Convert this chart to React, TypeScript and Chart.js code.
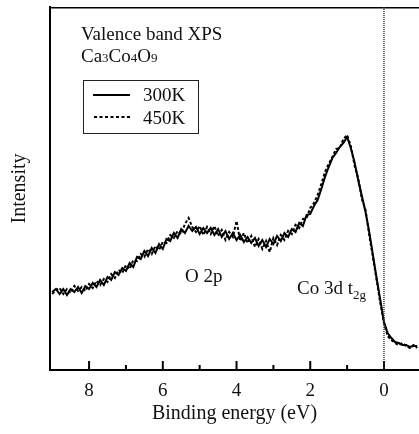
import React, { useEffect, useRef } from "react";
import { Chart, registerables } from "chart.js";

Chart.register(...registerables);

const ENERGY = [
  9.0, 8.9, 8.8, 8.7, 8.6, 8.5, 8.4, 8.3, 8.2, 8.1,
  8.0, 7.9, 7.8, 7.7, 7.6, 7.5, 7.4, 7.3, 7.2, 7.1,
  7.0, 6.9, 6.8, 6.7, 6.6, 6.5, 6.4, 6.3, 6.2, 6.1,
  6.0, 5.9, 5.8, 5.7, 5.6, 5.5, 5.4, 5.3, 5.2, 5.1,
  5.0, 4.9, 4.8, 4.7, 4.6, 4.5, 4.4, 4.3, 4.2, 4.1,
  4.0, 3.9, 3.8, 3.7, 3.6, 3.5, 3.4, 3.3, 3.2, 3.1,
  3.0, 2.9, 2.8, 2.7, 2.6, 2.5, 2.4, 2.3, 2.2, 2.1,
  2.0, 1.9, 1.8, 1.7, 1.6, 1.5, 1.4, 1.3, 1.2, 1.1,
  1.0, 0.9, 0.8, 0.7, 0.6, 0.5, 0.4, 0.3, 0.2, 0.1,
  0.0, -0.1, -0.2, -0.3, -0.4, -0.5, -0.6, -0.7, -0.8, -0.9,
];

const INTENSITY_300K = [
  78, 81, 76, 81, 75, 81, 78, 83, 77, 84,
  81, 87, 83, 90, 85, 93, 90, 98, 95, 102,
  99, 107, 103, 113, 111, 119, 114, 122, 117, 126,
  121, 131, 129, 137, 132, 141, 137, 144, 139, 143,
  136, 142, 137, 142, 135, 141, 133, 139, 131, 137,
  130, 135, 128, 133, 127, 132, 124, 130, 123, 131,
  126, 134, 129, 137, 133, 141, 138, 147, 144, 155,
  156, 164, 170, 181, 193, 203, 212, 217, 223, 227,
  233, 222, 208, 190, 174, 158, 138, 115, 92, 70,
  48, 37, 32, 28, 27, 25, 25, 23, 24, 24,
];

const INTENSITY_450K = [
  76, 80, 82, 76, 81, 77, 84, 79, 83, 79,
  86, 82, 89, 85, 91, 88, 96, 92, 100, 97,
  105, 101, 110, 109, 116, 113, 121, 116, 124, 120,
  128, 127, 135, 132, 139, 136, 146, 152, 143, 138,
  144, 135, 143, 136, 144, 134, 140, 130, 138, 133,
  149, 129, 137, 127, 134, 123, 131, 121, 129, 118,
  132, 125, 135, 130, 139, 136, 145, 142, 151, 152,
  162, 167, 175, 186, 198, 206, 213, 221, 222, 231,
  235, 224, 205, 192, 171, 160, 135, 113, 90, 67,
  47, 34, 30, 27, 25, 27, 24, 22, 25, 22,
];

const X_TICKS = [0, 2, 4, 6, 8];
const X_MINOR = [1, 3, 5, 7];
const SERIES_LABELS = ["300K", "450K"];
const X_MIN = -0.95;
const X_MAX = 9.06;
const Y_MIN = 0;
const Y_MAX = 363;

const FONT = "'Liberation Serif', 'Times New Roman', serif";

const decorPlugin = {
  id: "decor",
  afterDraw(chart: any) {
    const ctx = chart.ctx;
    const area = chart.chartArea;
    const xs = chart.scales.x;
    ctx.save();
    // top border
    ctx.strokeStyle = "#000";
    ctx.lineWidth = 1.5;
    ctx.beginPath();
    ctx.moveTo(area.left, area.top + 0.75);
    ctx.lineTo(area.right, area.top + 0.75);
    ctx.stroke();
    // inward ticks
    ctx.lineWidth = 2;
    X_TICKS.forEach((v) => {
      const px = xs.getPixelForValue(v);
      ctx.beginPath();
      ctx.moveTo(px, area.bottom);
      ctx.lineTo(px, area.bottom - 9);
      ctx.stroke();
    });
    X_MINOR.forEach((v) => {
      const px = xs.getPixelForValue(v);
      ctx.beginPath();
      ctx.moveTo(px, area.bottom);
      ctx.lineTo(px, area.bottom - 5);
      ctx.stroke();
    });
    // dotted line at 0
    const x0 = xs.getPixelForValue(0);
    ctx.strokeStyle = "#333";
    ctx.lineWidth = 1.5;
    ctx.setLineDash([1, 1]);
    ctx.beginPath();
    ctx.moveTo(x0, area.top);
    ctx.lineTo(x0, area.bottom);
    ctx.stroke();
    ctx.setLineDash([]);

    // texts
    ctx.fillStyle = "#111";
    ctx.textBaseline = "alphabetic";
    ctx.textAlign = "left";
    ctx.font = `19px ${FONT}`;
    ctx.fillText("Valence band XPS", 81, 40);
    // Ca3Co4O9
    let cx = 81;
    const parts: [string, boolean][] = [
      ["Ca", false], ["3", true], ["Co", false], ["4", true], ["O", false], ["9", true],
    ];
    parts.forEach(([t, small]) => {
      ctx.font = small ? `13px ${FONT}` : `19px ${FONT}`;
      ctx.fillText(t, cx, 62);
      cx += ctx.measureText(t).width;
    });

    // legend box
    ctx.strokeStyle = "#222";
    ctx.lineWidth = 1;
    ctx.strokeRect(83.5, 80.5, 115, 53);
    ctx.strokeStyle = "#000";
    ctx.lineWidth = 2;
    ctx.beginPath();
    ctx.moveTo(93, 95);
    ctx.lineTo(130, 95);
    ctx.stroke();
    ctx.setLineDash([3, 2.5]);
    ctx.beginPath();
    ctx.moveTo(94, 117);
    ctx.lineTo(130, 117);
    ctx.stroke();
    ctx.setLineDash([]);
    ctx.font = `19px ${FONT}`;
    ctx.fillText(SERIES_LABELS[0], 143, 101);
    ctx.fillText(SERIES_LABELS[1], 143, 124);

    // peak labels
    ctx.fillText("O 2p", 185, 282);
    ctx.fillText("Co 3d t", 297, 294);
    const tw = ctx.measureText("Co 3d t").width;
    ctx.font = `13px ${FONT}`;
    ctx.fillText("2g", 297 + tw, 299);
    ctx.restore();
  },
};

export default function App() {
  const ref = useRef<HTMLCanvasElement>(null);
  useEffect(() => {
    if (!ref.current) return;
    const chart = new Chart(ref.current, {
      type: "line",
      data: {
        datasets: [
          {
            label: SERIES_LABELS[0],
            data: ENERGY.map((e, i) => ({ x: e, y: INTENSITY_300K[i] })),
            borderColor: "#000",
            borderWidth: 2,
            pointRadius: 0,
            tension: 0,
            fill: false,
          },
          {
            label: SERIES_LABELS[1],
            data: ENERGY.map((e, i) => ({ x: e, y: INTENSITY_450K[i] })),
            borderColor: "#000",
            borderWidth: 2,
            borderDash: [3, 2],
            pointRadius: 0,
            tension: 0,
            fill: false,
          },
        ],
      },
      options: {
        responsive: false,
        animation: false,
        layout: { padding: { top: 7, right: 0, left: 0, bottom: 0 } },
        plugins: {
          legend: { display: false },
          tooltip: { enabled: false },
        },
        scales: {
          x: {
            type: "linear",
            reverse: true,
            min: X_MIN,
            max: X_MAX,
            afterBuildTicks: (scale: any) => {
              scale.ticks = X_TICKS.map((v) => ({ value: v }));
            },
            afterFit: (scale: any) => {
              scale.height = 64;
            },
            grid: { display: false, drawTicks: false },
            border: { display: true, color: "#000", width: 2 },
            ticks: {
              color: "#111",
              padding: 10,
              maxRotation: 0,
              font: { family: FONT, size: 19 },
            },
            title: {
              display: true,
              text: "Binding energy (eV)",
              color: "#111",
              font: { family: FONT, size: 20 },
              padding: { top: 0, bottom: 8 },
            },
          },
          y: {
            type: "linear",
            min: Y_MIN,
            max: Y_MAX,
            afterFit: (scale: any) => {
              scale.width = 50;
            },
            grid: { display: false, drawTicks: false },
            border: { display: true, color: "#000", width: 2 },
            ticks: { display: false },
            title: {
              display: true,
              text: "Intensity",
              color: "#111",
              font: { family: FONT, size: 20 },
              padding: { top: 8, bottom: 0 },
            },
          },
        },
      },
      plugins: [decorPlugin],
    });
    return () => chart.destroy();
  }, []);
  return (
    <div style={{ position: "absolute", left: 0, top: 0, width: 419, height: 434, background: "#fff" }}>
      <canvas ref={ref} width={419} height={434} style={{ display: "block" }} />
    </div>
  );
}
